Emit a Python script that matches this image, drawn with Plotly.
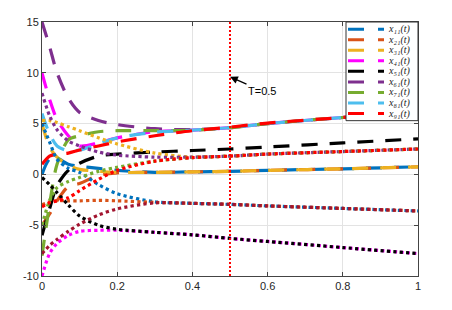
import plotly.graph_objects as go

# ---- data ----
t = [0, 0.02, 0.04, 0.07, 0.1, 0.15, 0.2, 0.3, 0.4, 0.5, 0.6, 0.8, 1.0]

# dashed states x_i1(t)
x11 = [0, 1.5, 1.6, 1.0, 0.8, 0.6, 0.4, 0.2, 0.25, 0.3, 0.4, 0.55, 0.75]
x21 = [-5.0, -3.9, -2.6, -1.2, -0.9, -0.1, 0.15, 0.2, 0.25, 0.3, 0.4, 0.55, 0.75]
x31 = [5, 2.7, 1.7, 0.9, 0.5, 0.3, 0.2, 0.2, 0.25, 0.3, 0.4, 0.55, 0.75]
x41 = [10, 7.4, 5.4, 3.8, 2.8, 3.1, 3.6, 4.2, 4.35, 4.6, 5.0, 5.6, 6.1]
x51 = [-6, -3.4, -1.1, 0.4, 1.1, 1.8, 2.0, 2.2, 2.35, 2.5, 2.7, 3.1, 3.5]
x61 = [15, 12.6, 10.0, 7.5, 6.1, 5.3, 4.9, 4.5, 4.4, 4.6, 5.0, 5.6, 6.1]
x71 = [-8, -3.0, 1.0, 3.4, 3.8, 4.2, 4.3, 4.3, 4.35, 4.6, 5.0, 5.6, 6.1]
x81 = [6, 4.0, 2.8, 2.3, 2.4, 3.0, 3.6, 4.15, 4.35, 4.6, 5.0, 5.6, 6.1]
x91 = [1.0, 1.8, 2.0, 2.1, 2.4, 2.8, 3.2, 3.8, 4.3, 4.65, 5.05, 5.6, 6.1]

# dotted states x_i2(t)
d_blue = [5, 3.2, 1.5, 0.6, 0.2, -1.0, -1.9, -2.7, -2.85, -2.95, -3.1, -3.35, -3.6]
d_orange = [-3, -2.7, -2.6, -2.6, -2.6, -2.55, -2.6, -2.75, -2.85, -2.95, -3.1, -3.35, -3.6]
d_yellow = [5.3, 5.3, 5.1, 4.7, 4.3, 3.6, 3.0, 2.1, 1.7, 1.8, 2.0, 2.25, 2.5]
d_magenta = [-10, -7.8, -6.8, -6.0, -5.6, -5.5, -5.5, -5.7, -5.95, -6.3, -6.6, -7.2, -7.8]
d_black = [-0.3, -1.0, -1.8, -3.0, -4.1, -5.0, -5.4, -5.7, -5.95, -6.3, -6.6, -7.2, -7.8]
d_purple = [8, 5.8, 4.4, 3.3, 2.8, 2.2, 1.9, 1.7, 1.7, 1.8, 2.0, 2.25, 2.5]
d_green = [-5, -2.6, -1.3, -0.7, -0.3, 0.3, 0.7, 1.3, 1.65, 1.8, 2.0, 2.25, 2.5]
d_maroon = [-7.8, -7.0, -6.4, -5.6, -4.9, -4.0, -3.4, -2.8, -2.85, -2.95, -3.1, -3.35, -3.6]
d_red = [-3.2, -2.8, -2.6, -2.3, -1.6, -0.5, 0.4, 1.3, 1.65, 1.8, 2.0, 2.25, 2.5]

T_MARK = 0.5
T_LABEL = "T=0.5"
y_range = [-10, 15]
x_ticks = [0, 0.2, 0.4, 0.6, 0.8, 1]
x_tick_labels = ["0", "0.2", "0.4", "0.6", "0.8", "1"]
y_ticks = [-10, -5, 0, 5, 10, 15]
y_tick_labels = ["-10", "-5", "0", "5", "10", "15"]

names = ["₁₁", "₂₁", "₃₁", "₄₁", "₅₁", "₆₁", "₇₁", "₈₁", "₉₁"]
colors = ["#0072BD", "#D95319", "#EDB120", "#FF00FF", "#000000",
          "#7E2F8E", "#77AC30", "#4DBEEE", "#FF0000"]
dashed = [x11, x21, x31, x41, x51, x61, x71, x81, x91]

dotted = [(d_blue, "#0072BD"), (d_orange, "#D95319"), (d_yellow, "#EDB120"),
          (d_magenta, "#FF00FF"), (d_black, "#000000"), (d_purple, "#7E2F8E"),
          (d_green, "#77AC30"), (d_maroon, "#A2142F"), (d_red, "#FF0000")]

DASH = "16px,12px"

fig = go.Figure()
for ys, c, n in zip(dashed, colors, names):
    fig.add_trace(go.Scatter(x=t, y=ys, mode="lines", name=f"x{n}(t)",
                             line=dict(color=c, width=3.2, dash=DASH, shape="spline", smoothing=0.8),
                             showlegend=False))
for ys, c in dotted:
    fig.add_trace(go.Scatter(x=t, y=ys, mode="lines",
                             line=dict(color=c, width=3.2, dash="dot", shape="spline", smoothing=0.8),
                             showlegend=False))

# vertical marker line
fig.add_trace(go.Scatter(x=[T_MARK, T_MARK], y=y_range, mode="lines",
                         line=dict(color="#FF0000", width=2, dash="2px,2px"), showlegend=False))

fig.add_annotation(x=T_MARK, y=9.6, text=T_LABEL, showarrow=True,
                   arrowhead=2, arrowsize=1.2, arrowwidth=1.3, arrowcolor="black",
                   ax=32, ay=14, font=dict(family="Liberation Sans, Arial", size=11, color="black"))

# page offset (body margin) and plot-area box in window pixels
OFF = 8
WIN_W, WIN_H = 452, 310
L, R, T, B = 42, 418, 16, 276
FW, FH = WIN_W - OFF, WIN_H - OFF
W, H = R - L, B - T
def px(x):
    return (x - L) / W
def py(y):
    return (B - y) / H

# manual compact legend (MATLAB style)
fig.add_shape(type="rect", xref="paper", yref="paper",
              x0=px(346), x1=px(418), y0=py(117), y1=py(16),
              line=dict(color="#333", width=1), fillcolor="white", layer="above")
for i, (c, n) in enumerate(zip(colors, names)):
    yy = 23.3 + 10.8 * i
    fig.add_shape(type="line", xref="paper", yref="paper",
                  x0=px(348), x1=px(384), y0=py(yy), y1=py(yy),
                  line=dict(color=c, width=3, dash="16px,14px"), layer="above")
    fig.add_annotation(xref="paper", yref="paper", x=px(386), y=py(yy),
                       xanchor="left", yanchor="middle", showarrow=False,
                       text=f"x{n}(t)",
                       font=dict(family="Liberation Serif, DejaVu Serif", size=10,
                                 color="#222", style="italic"))

axis_common = dict(showgrid=True, gridcolor="#E3E3E3", gridwidth=1,
                   showline=True, linecolor="#444", linewidth=1, mirror="ticks",
                   ticks="inside", ticklen=4, tickcolor="#444", zeroline=False,
                   tickfont=dict(family="Liberation Sans, Arial", size=11, color="#262626"))

fig.update_layout(
    width=FW, height=FH,
    margin=dict(l=L - OFF, r=FW - (R - OFF), t=T - OFF, b=FH - (B - OFF)),
    paper_bgcolor="white", plot_bgcolor="white",
    showlegend=False,
    xaxis=dict(range=[0, 1], tickvals=x_ticks, ticktext=x_tick_labels, **axis_common),
    yaxis=dict(range=y_range, tickvals=y_ticks, ticktext=y_tick_labels, **axis_common),
)

fig.write_html("out.html")
